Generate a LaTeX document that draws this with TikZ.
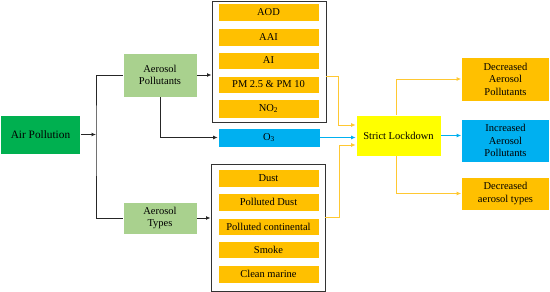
\documentclass[tikz,border=0pt]{standalone}
\usepackage{fontspec}
\setmainfont{Liberation Serif}
\usetikzlibrary{arrows.meta}
\definecolor{cOrange}{HTML}{FFC000}
\definecolor{cLine}{HTML}{FFC832}
\definecolor{cBlue}{HTML}{00B0F0}
\definecolor{cYellow}{HTML}{FFFF00}
\definecolor{cGreen}{HTML}{00B050}
\definecolor{cLight}{HTML}{A9D18E}
\definecolor{cFrame}{HTML}{333333}
\tikzset{
  box/.style={draw=white, line width=0.6pt, inner sep=1pt, align=center,
    font=\fontsize{10.5}{12.5}\selectfont, text=black},
  item/.style={box, fill=cOrange, minimum width=101pt},
  frame/.style={draw=cFrame, line width=1pt, minimum width=114pt, inner sep=0pt},
  blk/.style={draw=black!85, line width=0.9pt, -{Latex[length=4.5pt,width=4pt]}},
  blkl/.style={draw=black!85, line width=0.9pt},
  org/.style={draw=cLine, line width=0.9pt, -{Latex[length=4.5pt,width=4pt]}},
  blu/.style={draw=cBlue, line width=0.9pt, -{Latex[length=4.5pt,width=4pt]}},
}
\begin{document}
\begin{tikzpicture}[x=1pt,y=-1pt]
\useasboundingbox (0,0) rectangle (550,292);
% left
\node[box, fill=cGreen, minimum width=80pt, minimum height=39pt, font=\fontsize{11.3}{13}\selectfont] (air) at (40.5,134.5) {Air Pollution};
\node[box, fill=cLight, minimum width=74pt, minimum height=44pt] (ap) at (160,75) {Aerosol\\Pollutants};
\node[box, fill=cLight, minimum width=74pt, minimum height=32pt] (at) at (160,218) {Aerosol\\Types};
% frames
\node[frame, minimum height=121pt] (topf) at (269,61.5) {};
\node[frame, minimum height=127pt] (botf) at (268,227.5) {};
% top items
\node[item, minimum height=18pt] (aod) at (268.5,12) {AOD};
\node[item, minimum height=18pt] (aai) at (268.5,37) {AAI};
\node[item, minimum height=17pt] (ai) at (268.5,60.5) {AI};
\node[item, minimum height=17pt] (pm) at (268.5,84.5) {PM 2.5 \& PM 10};
\node[item, minimum height=19pt] (no2) at (268.5,108.5) {NO\textsubscript{2}};
\node[box, fill=cBlue, minimum width=102pt, minimum height=19pt] (o3) at (269,137.5) {O\textsubscript{3}};
% bottom items
\node[item, minimum height=18pt] (dust) at (268.5,178) {Dust};
\node[item, minimum height=18pt] (pdust) at (268.5,202) {Polluted Dust};
\node[item, minimum height=17pt] (pcont) at (268.5,226.5) {Polluted continental};
\node[item, minimum height=17pt] (smoke) at (268.5,250) {Smoke};
\node[item, minimum height=18pt] (clean) at (268.5,274) {Clean marine};
% lockdown
\node[box, fill=cYellow, minimum width=85pt, minimum height=41pt] (sl) at (398.5,135.5) {Strict Lockdown};
% right
\node[box, fill=cOrange, minimum width=88pt, minimum height=44pt] (dap) at (505.5,79) {Decreased\\Aerosol\\Pollutants};
\node[box, fill=cBlue, minimum width=88pt, minimum height=43pt] (iap) at (505.5,140.5) {Increased\\Aerosol\\Pollutants};
\node[box, fill=cOrange, minimum width=88pt, minimum height=33pt] (dat) at (505.5,193.5) {Decreased\\aerosol types};
% coordinates
\coordinate (sp) at (96,134.5);
\coordinate (t1) at (326,76);
\coordinate (t2) at (338,125);
\coordinate (b1) at (325,217);
\coordinate (b2) at (339,145);
% connectors left
\draw[blk] (air.east) -- (sp);
\draw[blkl] (ap.west) -| (sp) |- (at.west);
\draw[blk] (ap.east) -- (ap.east -| topf.west);
\draw[blk] (ap.south) |- (o3.west);
\draw[blk] (at.east) -- (at.east -| botf.west);
% into lockdown
\draw[org] (t1) -| (t2) -- (t2 -| sl.west);
\draw[blu] (o3.east) -- (o3.east -| sl.west);
\draw[org] (b1) -| (b2) -- (b2 -| sl.west);
% out of lockdown
\draw[org] (sl.north -| 396,0) |- (dap.west);
\draw[blu] (sl.east) -- (iap.west |- sl.east);
\draw[org] (sl.south -| 396,0) |- (dat.west);
\end{tikzpicture}
\end{document}
